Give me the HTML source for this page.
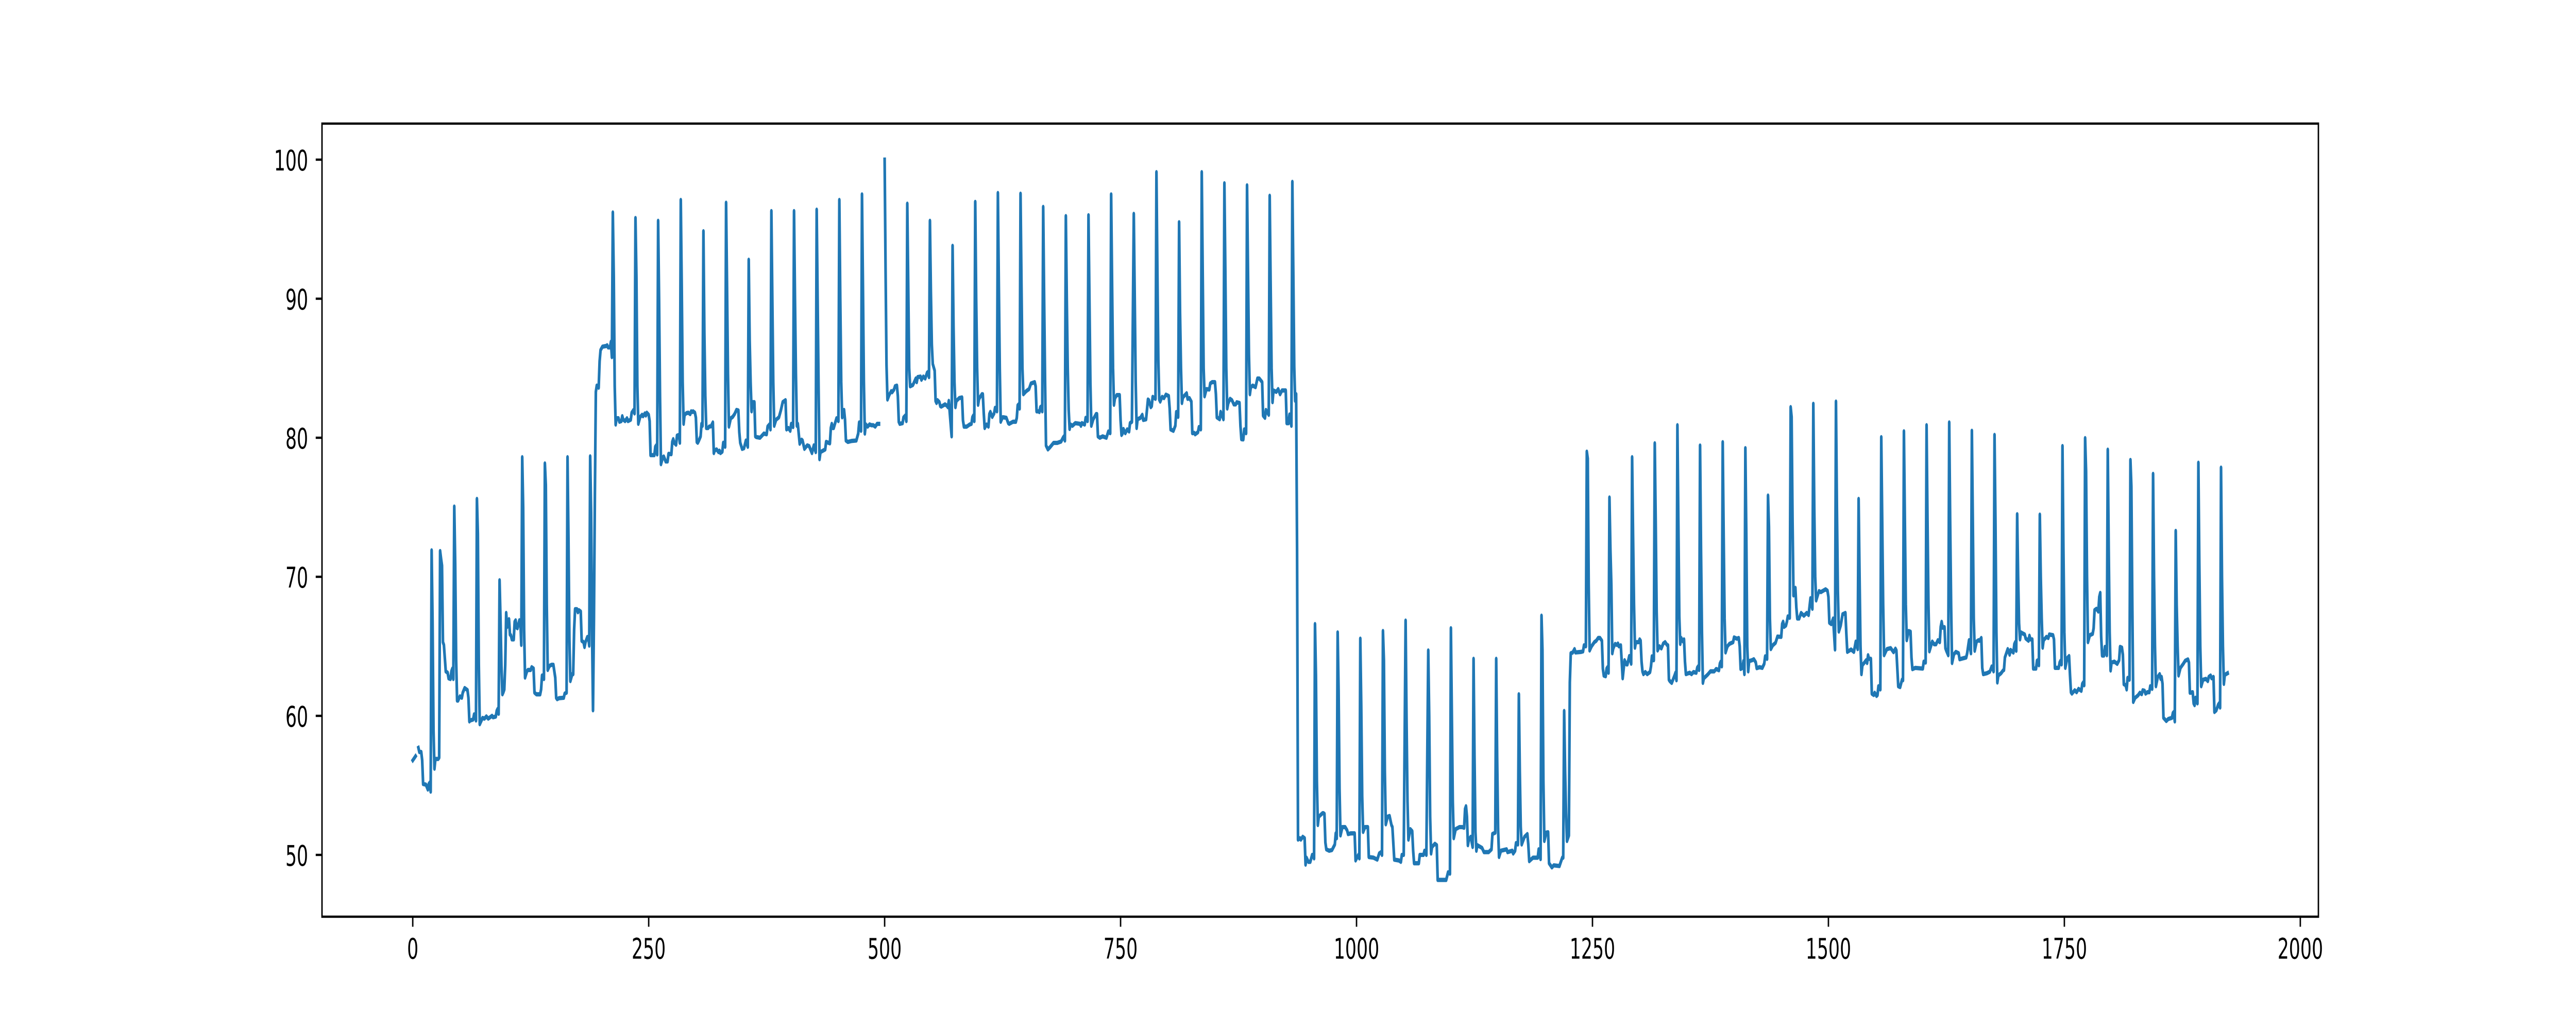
<!DOCTYPE html>
<html lang="en">
<head>
<meta charset="utf-8">
<title>Time series line chart</title>
<style>
html,body{margin:0;padding:0;background:#fff;width:100%;height:100%;overflow:hidden}
svg{display:block;width:100vw;height:100vh}
text{font-family:"DejaVu Sans","Liberation Sans",sans-serif;font-size:55.56px;fill:#000}
</style>
</head>
<body>
<svg id="chart" xmlns="http://www.w3.org/2000/svg" viewBox="0 0 8000 2000" preserveAspectRatio="none">
<rect x="0" y="0" width="8000" height="2000" fill="#fff"/>
<g id="series"></g>
<g id="ticks"></g>
<rect x="1000" y="240" width="6200" height="1540" fill="none" stroke="#000" stroke-width="4.44"/>
</svg>
<script>
const xTickValues=[0,250,500,750,1000,1250,1500,1750,2000];
const xTickLabels=["0","250","500","750","1000","1250","1500","1750","2000"];
const yTickValues=[50,60,70,80,90,100];
const yTickLabels=["50","60","70","80","90","100"];

const runOneX=[0,2,3];
const runOneY=[56.8,57,57.1];

const runTwoX=[
6,7,9,10,11,14,16,17,18,19,
20,21,22,23,24,27,28,
29,30,31,32,33,35,37,38,40,41,42,43,
44,45,46,47,48,50,52,53,55,58,59,60,61,64,65,66,67,
68,69,70,71,74,76,78,80,84,85,88,89,90,91,
92,93,94,95,96,97,98,99,100,102,103,104,105,107,108,109,110,111,113,114,115,
116,117,118,119,121,122,125,126,128,129,131,135,136,137,138,139,
140,141,142,143,145,147,149,151,152,153,155,160,161,163,
164,165,166,167,169,170,171,172,174,175,176,178,179,181,182,183,185,186,187,
188,189,190,191,192,193,194,195,197,198,199,201,205,206,207,209,210,211,
212,213,214,215,216,218,219,221,222,223,225,227,228,231,232,234,235,
236,237,238,239,241,243,244,246,247,248,250,251,252,254,256,257,258,259,
260,261,262,263,265,266,268,270,271,274,275,276,277,279,280,282,283,
284,285,286,287,288,290,292,294,295,296,297,299,300,301,302,303,305,306,307,
308,309,310,311,313,314,316,318,319,320,322,324,325,326,328,329,331,
332,333,334,335,337,339,341,343,345,346,347,349,351,353,355,
356,357,358,359,360,362,363,364,368,372,375,376,378,379,
380,381,382,383,385,388,390,392,395,396,398,400,401,403,
404,405,406,407,408,410,412,413,415,418,420,423,425,427,
428,429,430,431,432,437,438,442,443,444,445,446,449,451,
452,453,454,455,457,458,459,461,465,470,472,473,475,
476,477,478,479,480,482,484,486,488,490,492,494];
const runTwoY=[
57.7,57.4,57.4,56.8,55.1,55.05,54.7,55.1,55.2,54.55,
71.9,66.8,59,56.2,56.9,56.9,57,
71.85,71.3,70.8,65.3,65.1,63.2,63.1,62.7,62.65,63.2,63.4,62.65,
75.05,70.9,64,61.1,61.1,61.4,61.3,61.67,62,61.85,61.3,59.6,59.67,59.74,60.1,60.1,59.67,
75.6,73.1,63.7,59.4,59.85,59.8,59.96,59.8,60,59.9,59.95,60.36,60.5,60.15,
69.75,66.9,63.5,61.55,61.7,61.9,63.67,67.4,66.4,66.95,65.85,65.8,65.5,65.5,66.76,66.87,66.35,66.3,66.87,66.87,65.1,
78.6,75,66.2,62.75,63.2,63.3,63.3,63.5,63.4,61.67,61.55,61.55,61.9,62.9,62.9,62.65,
78.15,76.6,68,63.3,63.6,63.67,63.67,62.75,61.3,61.2,61.27,61.3,61.6,61.67,
78.6,72.76,65.5,62.5,63,63,66.2,67.67,67.67,67.45,67.6,67.5,65.4,65.3,64.95,65.3,65.67,65.67,65.05,
78.66,74.6,66,60.4,67,76,83.3,83.75,83.6,85.5,86.3,86.55,86.6,86.65,86.5,86.5,86.9,85.8,
96.2,91.6,83.7,80.95,81.4,81.4,81.15,81.2,81.55,81.3,81.2,81.4,81.2,81.3,81.8,82,81.75,
95.8,91.6,83.7,81,81.5,81.65,81.55,81.75,81.6,81.8,81.65,81.2,78.75,78.75,78.75,79.35,79.45,78.8,
95.6,90,83,78.1,78.6,78.65,78.3,78.3,78.84,78.82,79.7,79.9,79.64,79.5,80.15,80.2,79.64,
97.1,91,84,81,81.65,81.77,81.8,81.7,81.9,81.85,81.9,81.8,81.45,79.7,79.64,79.77,80.1,81,80.86,
94.85,87.5,83,80.7,80.7,80.8,80.82,81.1,78.9,79.1,79.16,78.97,79.07,78.9,79,79.64,79.35,
96.9,91,84.6,80.8,81.4,81.5,81.7,82,81.96,80.4,79.64,79.2,79.25,79.8,79.35,
92.8,87,84,81.9,82.56,82.56,80.1,80.05,80,80.3,80.25,80.8,80.96,80.6,
96.3,90,84,80.86,81.3,81.47,81.96,82.56,82.7,80.6,80.7,80.5,81,80.77,
96.3,90,84.6,80.86,81,79.57,79.86,79.8,79.2,79.45,79.4,78.9,79.45,78.97,
96.4,90,83.7,78.46,78.97,79.16,79.7,79.6,80.7,81,80.7,80.7,81.4,81.2,
97.1,90,84,81.47,82,81.3,79.8,79.7,79.77,79.8,80.3,81.1,80.5,
97.5,91,84,80.3,80.96,80.8,80.96,80.9,80.9,80.8,81,81];

const runThreeX=[
500,501,502,503,505,507,508,510,511,513,514,515,516,519,520,522,523,
524,525,526,527,530,533,534,535,538,539,541,543,545,546,547,
548,549,550,551,553,554,555,556,558,559,560,564,566,567,568,571,
572,573,574,575,576,579,582,583,584,587,590,592,593,594,595,
596,597,598,599,600,603,604,605,606,608,610,611,612,614,616,617,619,
620,621,622,623,625,626,629,631,632,636,639,640,641,642,643,
644,645,646,647,650,653,655,659,660,661,663,664,665,666,667,
668,669,670,671,673,675,679,683,687,689,690,691,
692,693,694,695,696,697,699,702,707,708,709,712,713,715,
716,717,718,719,721,724,725,726,728,731,735,737,738,739,
740,741,742,743,744,746,749,750,751,752,753,755,757,759,760,762,
764,765,766,767,768,771,773,774,777,779,780,782,783,784,787,
788,789,790,791,792,794,796,798,801,802,803,806,808,809,811,
812,813,814,815,816,819,820,821,823,825,826,828,829,832,833,835,
836,837,838,839,841,844,845,847,850,851,852,855,856,859,
860,861,862,863,864,866,868,870,872,873,876,877,878,880,881,883,
884,885,886,887,888,890,893,895,897,900,901,903,904,907,
908,909,910,911,912,915,917,919,921,925,926,928,929,931,
932,933,934,935,936,937,938,940,941,943,945,946,947,949,951,953,954,955,
956,957,958,959,960,964,965,966,967,968,971,974,977,978,979,
980,981,982,983,985,988,990,991,994,997,998,999,1002,1003,
1004,1005,1006,1007,1009,1012,1013,1018,1022,1024,1026,1027,
1028,1029,1030,1031,1033,1035,1037,1038,1040,1045,1047,1048,1050,
1052,1053,1054,1055,1057,1059,1060,1061,1066,1067,1071,1072,1074,
1076,1077,1078,1079,1080,1083,1085,1086,1090,1095,1097,1099,
1100,1101,1102,1103,1105,1109,1112,1114,1115,1116,1117,1118,1119,1121,1123,
1124,1125,1126,1127,1128,1133,1135,1140,1143,1144,1147,
1148,1149,1150,1151,1153,1159,1160,1165,1166,1168,1169,1171,
1172,1173,1174,1175,1178,1181,1182,1183,1187,1190,1192,1193,1195,
1196,1197,1198,1199,1201,1203,1204,1207,1209,1215,1216,1218,1219,
1220,1221,1222,1223,1225,1226,1227,1229,1231,1232,1238,1240,1241,1243,
1244,1245,1246,1247,1249,1252,1254,1256,1258,1260,1261,1262,1264,1265,1266,1267,
1268,1269,1270,1271,1272,1274,1276,1277,1278,1280,1282,1284,1286,1287,1289,1291,
1292,1293,1294,1295,1296,1299,1300,1301,1302,1303,1304,1306,1308,1311,1312,1313,1314,1315,
1316,1317,1318,1319,1321,1323,1325,1327,1329,1330,1331,1332,1334,1337,1338,1339,
1340,1341,1342,1343,1344,1346,1347,1348,1349,1353,1355,1357,1360,1361,1362,1363,
1364,1365,1366,1367,1368,1372,1375,1379,1381,1384,1385,1386,1387,
1388,1389,1390,1391,1393,1395,1399,1400,1403,1405,1406,1407,1409,1410,1411,
1412,1413,1414,1415,1416,1419,1421,1423,1424,1427,1430,1432,1433,1435,
1436,1437,1438,1439,1441,1444,1446,1450,1451,1452,1453,1455,1456,1457,1459,
1460,1461,1462,1463,1465,1466,1467,1469,1471,1474,1477,1479,1481,1483,
1484,1485,1486,1487,1490,1492,1497,1499,1500,1501,1503,1505,1507,
1508,1509,1510,1511,1513,1515,1518,1519,1520,1524,1527,1529,1531,
1532,1533,1534,1535,1536,1540,1541,1542,1543,1545,1546,1548,1549,1551,1552,1553,1555,
1556,1557,1558,1559,1562,1566,1569,1571,1572,1574,1576,1578,1579,
1580,1581,1582,1583,1585,1587,1588,1589,1592,1600,1601,1603,
1604,1605,1606,1607,1610,1612,1614,1616,1618,1619,1620,1621,1623,1624,1625,1627,
1628,1629,1630,1631,1633,1635,1638,1639,1646,1647,1649,1651,
1652,1653,1654,1655,1657,1659,1660,1662,1663,1664,1668,1671,1673,1675,
1676,1677,1678,1679,1680,1683,1685,1686,1687,1688,1690,1692,1693,1696,1697,1698,1699,
1700,1701,1702,1703,1704,1708,1709,1712,1713,1714,1716,1717,1720,1721,1722,1723,
1724,1725,1726,1727,1728,1731,1733,1734,1738,1739,1740,1741,1744,1745,1746,1747,
1748,1749,1750,1751,1753,1755,1756,1757,1758,1761,1763,1765,1768,1769,1770,1771,
1772,1773,1774,1775,1777,1780,1781,1782,1784,1786,1787,1788,1789,1790,1792,1793,1795,
1796,1797,1798,1799,1800,1803,1806,1808,1809,1811,1812,1813,1815,1816,1817,1819,
1820,1821,1822,1823,1825,1828,1830,1832,1833,1835,1836,1838,1840,1841,1843,
1844,1845,1846,1847,1849,1851,1852,1853,1854,1855,1858,1860,1864,1865,1866,1867,
1868,1869,1870,1871,1873,1874,1876,1878,1881,1882,1883,1886,1887,1888,1889,1891,
1892,1893,1894,1895,1897,1900,1902,1903,1905,1906,1908,1909,1911,1913,1914,1915,
1916,1917,1918,1919,1920,1923];
const runThreeY=[
100,92,85.2,82.75,83.1,83.35,83.28,83.47,83.7,83.75,83,81.15,81,81.05,81.46,81.6,81.2,
96.83,91,85,83.7,83.8,84.26,84,84.36,84.4,84.17,84.4,84.26,84.68,84.73,84.36,
95.6,90.5,86.7,85.3,84.83,82.65,82.5,82.7,82.56,82.28,82.24,82.4,82.3,82.2,82.65,80.1,
93.8,88,84,82.2,82.65,82.85,82.9,81.25,80.8,80.8,80.95,81,81.47,81.6,81.2,
96.96,90,85,82.37,82.8,83.13,83.13,81.8,80.7,80.95,80.8,81.7,81.86,81.5,81.75,82.15,81.9,
97.6,91,85,81.15,81.47,81.47,81.43,81.05,81,81.15,81.15,81.43,82.33,82.4,82.1,
97.55,91,85,83.13,83.35,83.5,83.9,84,83.7,81.9,81.9,81.85,82.2,82.25,81.9,
96.6,90,84,79.44,79.16,79.3,79.63,79.63,79.73,80,80.1,79.8,
95.94,90,85,82,80.63,80.95,80.86,81.05,81,80.86,81.05,80.95,81.43,81.2,
96,90,84,80.86,81.33,81.7,81.7,80.1,80,80.1,80,80.45,80.4,80.33,
97.5,91,85,82.37,82.85,83.07,83.07,81.25,80.2,80.3,80.63,80.33,80.6,80.45,81.05,81.15,
96.1,90,84,80.7,81.33,81.43,81.65,81.28,81.33,82.75,82.7,82.2,82.28,82.94,82.8,
99.1,92,85.6,82.75,82.6,82.94,82.85,83.1,83,82.1,80.6,80.5,80.86,81.85,81.5,
95.5,89,85,82.5,82.9,83.13,83.2,82.8,82.85,82.6,80.33,80.35,80.25,80.4,80.77,80.6,
99.1,92,85,82.98,83.5,83.47,83.9,84,84,83.13,81.47,81.33,81.86,81.33,
98.3,92,85,82.1,82.47,82.8,82.7,82.4,82.4,82.55,82.5,80.86,79.9,79.88,80.6,80.33,
98.15,92,86,83.13,83.64,83.75,83.64,84.26,84.26,84,81.6,81.43,82,81.65,
97.4,91,85,82.56,83.4,83.3,83.5,83.13,83.4,83.4,81.05,81.05,81.67,80.86,
98.4,92,85.1,82.66,83.13,72,51.1,51.2,51.1,51.3,51.2,49.3,49.8,49.5,49.5,50,50,49.75,
66.6,62.9,55.3,52.15,52.75,53,53,52.95,50.9,50.4,50.3,50.35,50.75,51.55,51.2,
66,61.85,54.75,51.4,52,52,51.77,51.5,51.55,51.55,51.55,49.6,50,49.75,
65.55,60.76,54.2,51.65,52,52,49.85,49.8,49.66,50.1,50.2,50,
66.1,64,56,52.2,52.75,52.8,52.15,52,49.66,49.6,49.5,50,50,
66.85,59.7,53.85,51.1,51.85,51.7,50.3,49.4,49.4,50,50,50.3,50,
64.7,60,52.75,50.1,50.57,50.8,50.7,48.2,48.2,48.2,48.75,48.65,
66.3,60,53.85,51.2,51.85,52,52,51.95,53.3,53.5,52.75,50.7,51.1,51.3,50.57,
64.1,57.1,51.65,50.3,50.7,50.5,50.2,50.2,50.4,51.5,51.6,
64.1,57,51.85,49.85,50.3,50.4,50.2,50.3,50.1,50.3,50.85,50.75,
61.55,56,52,50.75,51.3,51.5,50.75,49.55,49.8,49.8,49.8,50.4,49.7,
67.2,64.76,55.3,51,51.6,51.63,49.4,49.1,49.25,49.2,49.4,49.8,49.8,
60.35,56,53,51,51.4,62.4,64.5,64.55,64.8,64.56,64.6,64.64,65.07,65,
79,78.5,69.4,64.7,65,65.3,65.4,65.6,65.6,65.4,63.4,62.9,62.85,63.4,63.5,63.1,
75.7,72,69.4,64.5,64.85,65.17,65.1,65.2,65,65.07,62.7,64,63.7,63.7,64.3,63.75,
78.6,73,68,64.9,65.3,65.3,65.5,65.4,63.9,63.2,63,63.15,63,63.15,63.56,64.28,64,64,
79.6,74,67.5,64.7,65,64.85,65.2,65.3,65.1,65.07,62.6,62.5,62.37,62.9,63.1,62.56,
80.9,74,67.15,65.17,65.6,65.35,65.5,63.9,63,63.1,63,63.15,63.1,63.46,63.56,63.3,
79.44,72,66,62.37,62.7,62.96,63.2,63.2,63.37,63.28,63.75,63.9,63.56,
79.68,73,67,64.56,65,65.17,65.3,65.64,65.55,65.6,65,63.37,63.46,63.94,63,
79.25,73,65,63.2,63.94,64,64.07,63.85,63.43,63.5,63.45,63.75,64.28,64.1,
75.84,73.6,67,64.8,65.07,65.26,65.7,65.68,66.6,66.77,66.4,66.5,66.77,67.15,67.05,
82.2,81.5,74,68.66,69.2,67.8,67,67,67.4,67.2,67.4,67.25,68.46,67.7,
82.44,75,70,68.3,68.97,68.9,69.1,69,68.55,66.7,66.6,67,64.77,
82.6,75,69,66.06,66.5,67.3,67.4,65.9,64.6,64.77,64.6,65.34,64.8,
75.6,70,65,63,63.64,64,63.8,64.36,64.1,64.1,61.6,61.5,61.66,61.43,61.5,62.13,61.9,
80.04,74,68,64.36,64.8,64.87,64.58,64.83,64.7,62.13,62.07,62.6,62.56,
80.46,74,68,65.44,66.1,66.05,64.2,63.36,63.45,63.4,63.9,63.83,
80.9,74,68,64.64,65.34,65.15,65.15,65.44,65.3,66.4,66.76,66.34,66.38,64.87,64.68,64.36,
81.1,74,68,63.8,64.43,64.6,64.5,64.07,64.2,64.5,65.44,64.5,
80.5,74,67,64.68,65.34,65.44,65.4,65.6,63.45,63,63.07,63.17,63.55,63.2,
80.2,74,66,62.4,62.9,63.07,63.26,63.3,64.2,64.4,64.8,64.4,64.74,64.55,65.15,65.3,64.68,
74.5,70,66.66,65.5,66,65.85,65.57,65.4,65.76,65.5,65.5,63.4,63.4,63.96,64,63.64,
74.47,70,67,64.9,65.44,65.68,65.6,65.85,65.8,65.5,63.45,63.45,63.45,63.83,63.96,63.7,
79.4,72,66,63.45,64.15,64.3,62.9,61.7,61.6,61.84,61.7,61.94,61.8,62.3,62.4,62.2,
79.97,77.6,70,65.3,65.8,65.9,66.3,67.6,67.7,67.5,68.55,68.84,65.7,64.34,64.34,64.96,64.36,
79.14,72,66,63.26,63.83,63.9,63.74,64,64.96,64.9,64.4,62.28,62.2,61.9,62.73,62.6,
78.4,76.5,68,61,61.3,61.47,61.66,61.56,61.84,61.8,61.6,61.7,61.7,62.13,61.94,
77.4,70,65,62.13,62.8,63,62.66,62.8,62.3,59.86,59.63,59.77,59.86,60.2,60.28,59.6,
73.3,68,65,62.9,63.45,63.55,63.74,63.96,64.06,63.83,61.66,61.7,60.9,60.77,61.3,60.9,
78.2,71,65,62.13,62.6,62.66,62.5,62.8,62.9,62.7,62.8,60.28,60.4,60.8,60.9,60.6,
77.85,70,65,62.3,62.95,63.07];

const NS="http://www.w3.org/2000/svg";
function xAxis(v){return 1000+(v+96.15)*2.931;}
function yAxis(v){return 310+(100-v)*27;}

const seriesLayer=document.getElementById('series');
const tickLayer=document.getElementById('ticks');

function drawRun(xs,ys,name){
  const n=Math.min(xs.length,ys.length);
  let d='';
  for(let i=0;i<n;i++){
    d+=(i?'L':'M')+xAxis(xs[i]).toFixed(2)+' '+yAxis(ys[i]).toFixed(2);
  }
  const p=document.createElementNS(NS,'path');
  p.setAttribute('d',d);
  p.setAttribute('fill','none');
  p.setAttribute('stroke','#1f77b4');
  p.setAttribute('stroke-width','8.33');
  p.setAttribute('stroke-linejoin','round');
  p.setAttribute('stroke-linecap','square');
  
  
  seriesLayer.appendChild(p);
}
drawRun(runOneX,runOneY,'series-line-segment-1');
drawRun(runTwoX,runTwoY,'series-line-segment-2');
drawRun(runThreeX,runThreeY,'series-line-segment-3');

xTickValues.forEach(function(v,i){
  const x=xAxis(v);
  const t=document.createElementNS(NS,'line');
  t.setAttribute('x1',x);
  t.setAttribute('x2',x);
  t.setAttribute('y1',1780);
  t.setAttribute('y2',1799.5);
  t.setAttribute('stroke','#000');
  t.setAttribute('stroke-width','4.44');
  
  
  tickLayer.appendChild(t);
  const l=document.createElementNS(NS,'text');
  l.setAttribute('x',x);
  l.setAttribute('y',1861.5);
  l.setAttribute('text-anchor','middle');
  l.textContent=xTickLabels[i];
  
  
  tickLayer.appendChild(l);
});

yTickValues.forEach(function(v,i){
  const y=yAxis(v);
  const t=document.createElementNS(NS,'line');
  t.setAttribute('x1',980.5);
  t.setAttribute('x2',1000);
  t.setAttribute('y1',y);
  t.setAttribute('y2',y);
  t.setAttribute('stroke','#000');
  t.setAttribute('stroke-width','4.44');
  
  
  tickLayer.appendChild(t);
  const l=document.createElementNS(NS,'text');
  l.setAttribute('x',957);
  l.setAttribute('y',y+21);
  l.setAttribute('text-anchor','end');
  l.textContent=yTickLabels[i];
  
  
  tickLayer.appendChild(l);
});
</script>
</body>
</html>
